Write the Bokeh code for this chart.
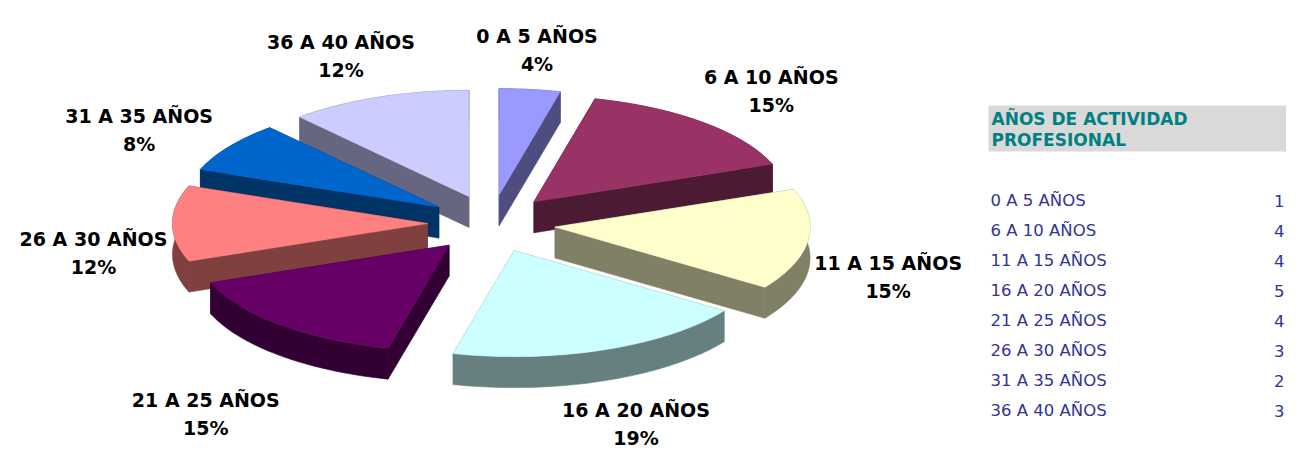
import numpy as np
from bokeh.plotting import figure
from bokeh.models import Range1d, ColumnDataSource
from bokeh.embed import file_html
from bokeh.resources import INLINE
from bokeh.core.properties import value

# ---------------- data ----------------
categories = ["0 A 5 AÑOS", "6 A 10 AÑOS", "11 A 15 AÑOS", "16 A 20 AÑOS",
              "21 A 25 AÑOS", "26 A 30 AÑOS", "31 A 35 AÑOS", "36 A 40 AÑOS"]
counts = [1, 4, 4, 5, 4, 3, 2, 3]
legend_title = ["AÑOS DE ACTIVIDAD", "PROFESIONAL"]

# ---------------- styles ----------------
top_colors = ["#9999FF", "#993366", "#FFFFCC", "#CCFFFF",
              "#660066", "#FF8080", "#0066CC", "#CCCCFF"]
side_colors = ["#4D4D80", "#4D1A33", "#808066", "#668080",
               "#330033", "#804040", "#003366", "#666680"]
LABEL_FONT = value("DejaVu Sans")

W, H = 1286, 447
p = figure(width=W, height=H, x_range=Range1d(0, W), y_range=Range1d(H, 0),
           output_backend="svg", toolbar_location=None, min_border=0)
p.axis.visible = False
p.grid.visible = False
p.outline_line_color = None
p.background_fill_color = "white"
p.border_fill_color = "white"

# pie geometry (screen-like units)
CX, CY = 491, 223
RX, RY = 255, 106
EX, EY = 64, 29
DEPTH = 31

total = float(sum(counts))
fracs = np.array(counts) / total
ends = np.cumsum(fracs) * 2 * np.pi
starts = ends - fracs * 2 * np.pi
mids = (starts + ends) / 2

xs, ys, fills = [], [], []
order = np.argsort(-np.cos(mids))  # back slices first
for i in order:
    ax = CX + EX * np.sin(mids[i])
    ay = CY - EY * np.cos(mids[i])
    ang = np.linspace(starts[i], ends[i], 60)
    arc_x = ax + RX * np.sin(ang)
    arc_y = ay - RY * np.cos(ang)
    # outer side
    xs.append(list(arc_x) + list(arc_x[::-1]))
    ys.append(list(arc_y) + list(arc_y[::-1] + DEPTH))
    fills.append(side_colors[i])
    # radial sides
    for k in (0, -1):
        xs.append([ax, arc_x[k], arc_x[k], ax])
        ys.append([ay, arc_y[k], arc_y[k] + DEPTH, ay + DEPTH])
        fills.append(side_colors[i])
    # top face
    xs.append([ax] + list(arc_x))
    ys.append([ay] + list(arc_y))
    fills.append(top_colors[i])

src = ColumnDataSource(dict(xs=xs, ys=ys, fill=fills))
p.patches("xs", "ys", source=src, fill_color="fill", line_color="fill", line_width=0.6)

# data labels (placed on an ellipse around the pie, pushed out on diagonals)
s = np.sin(mids)
c = np.cos(mids)
rmul = 1 + 0.08 * np.abs(np.sin(2 * mids))
lx = 488 + 395 * rmul * s
ly = np.minimum(252 - 200 * rmul * c, H - 24)
pcts = [f"{int(round(100 * v / total))}%" for v in counts]
p.text(x=list(lx), y=list(ly - 14), text=categories, text_font=LABEL_FONT,
       text_font_style="bold", text_font_size="19px", text_align="center",
       text_baseline="middle", text_color="black")
p.text(x=list(lx), y=list(ly + 14), text=pcts, text_font=LABEL_FONT,
       text_font_style="bold", text_font_size="19px", text_align="center",
       text_baseline="middle", text_color="black")

# table / legend on the right
p.quad(left=[988], right=[W], top=[105], bottom=[151], fill_color="#D9D9D9", line_color=None)
p.text(x=[991, 991], y=[118, 139], text=legend_title, text_font=LABEL_FONT,
       text_font_style="bold", text_font_size="17px", text_align="left",
       text_baseline="middle", text_color="#008080")
row_y = [200 + 30 * i for i in range(len(categories))]
p.text(x=[990] * len(categories), y=row_y, text=categories, text_font=LABEL_FONT,
       text_font_size="16.5px", text_align="left", text_baseline="middle", text_color="#333399")
p.text(x=[W - 2] * len(categories), y=row_y, text=[str(v) for v in counts], text_font=LABEL_FONT,
       text_font_size="16.5px", text_align="right", text_baseline="middle", text_color="#333399")

open("out.html", "w").write(file_html(p, INLINE))
